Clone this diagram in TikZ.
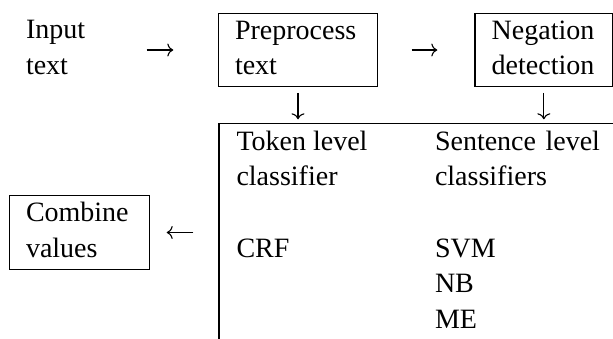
\documentclass[tikz,border=0pt]{standalone}
\usepackage{fontspec}
\setmainfont{Liberation Serif}
\usetikzlibrary{arrows.meta}
\begin{document}
\begin{tikzpicture}[x=1pt,y=-1pt,
  every node/.style={font=\fontsize{28}{35.7}\selectfont},
  stepbox/.style={draw, line width=1.1pt, outer sep=0pt, inner xsep=16.7pt,
    inner ysep=1.2pt, align=left,
    execute at begin node=\strut, execute at end node=\strut},
  txt/.style={inner sep=0pt, outer sep=0pt, align=left,
    execute at begin node=\strut, execute at end node=\strut},
  flow/.style={line width=1.1pt,
    -{Computer Modern Rightarrow[length=6pt,width=13pt]}}
]
\useasboundingbox (0,0) rectangle (613,338);
\clip (0,0) rectangle (613,338);

% pipeline stages
\node[txt, anchor=north west, text width=70pt] (inp) at (26,13.45) {Input\\text};
\node[stepbox, text width=126pt] (pre) at (298,50) {Preprocess\\text};
\node[stepbox, text width=104.3pt] (neg) at (543.85,50) {Negation\\detection};
\node[stepbox, text width=106.6pt] (comb) at (79.3,232.5) {Combine\\values};

% classifier table (open to the right and below)
\node[draw, line width=1.1pt, outer sep=0pt, anchor=north west,
      inner xsep=17.5pt, inner ysep=1.8pt] (clf) at (219,123.3)
  {\begin{tabular}{@{}p{198.5pt}@{}p{300pt}@{}}
    Token level & Sentence\hspace{9.5pt}level\\
    classifier  & classifiers\\
                & \\
    CRF         & SVM\\
                & NB\\
                & ME\\[40pt]
  \end{tabular}};

% arrows
\draw[flow, shorten <=50.7pt, shorten >=45pt] (pre.west -| inp.east) -- (pre.west);
\draw[flow, shorten <=34pt, shorten >=37.7pt] (pre.east) -- (neg.west);
\draw[flow, shorten <=6pt, shorten >=4pt] (pre.south) -- (pre.south |- clf.north);
\draw[flow, shorten <=6pt, shorten >=4pt] (neg.south) -- (neg.south |- clf.north);
\draw[flow, shorten <=25.7pt, shorten >=17.4pt] (comb.east -| clf.west) -- (comb.east);
\end{tikzpicture}
\end{document}
